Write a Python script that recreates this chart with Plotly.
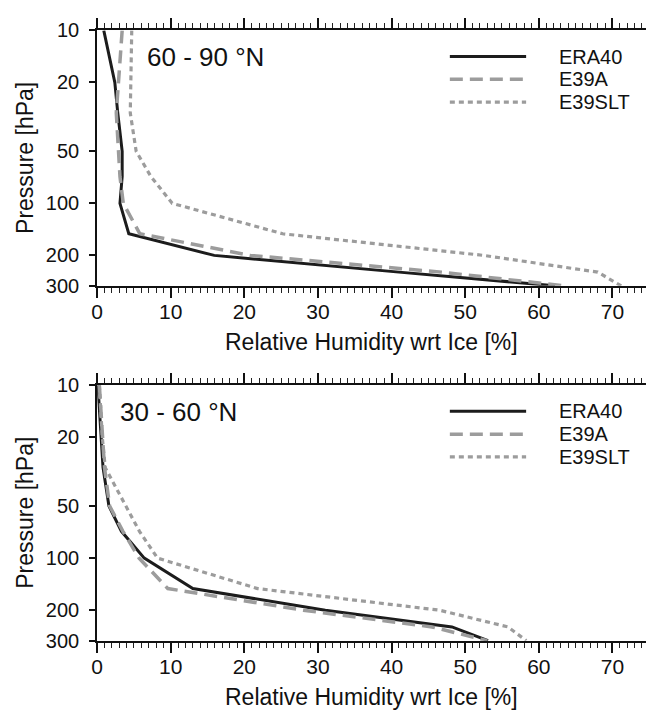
import plotly.graph_objects as go
import math

# ---------------- data ----------------
levels = [10, 20, 30, 50, 70, 100, 150, 200, 250, 300]

# 60 - 90 N
era40_polar = [0.9, 2.4, 2.8, 3.4, 3.4, 3.1, 4.3, 15.9, 41.0, 62.2]
e39a_polar = [3.4, 2.85, 2.6, 2.9, 3.1, 3.55, 5.8, 20.8, 46.8, 63.4]
e39slt_polar = [4.7, 4.6, 4.5, 5.3, 7.3, 10.2, 25.2, 52.5, 68.0, 71.2]

# 30 - 60 N
era40_mid = [0.1, 0.6, 0.8, 1.6, 3.3, 6.4, 13.0, 31.0, 48.2, 53.1]
e39a_mid = [0.3, 0.8, 1.0, 1.7, 3.5, 5.7, 9.6, 28.0, 45.5, 53.0]
e39slt_mid = [0.3, 0.7, 1.1, 3.9, 5.75, 8.2, 21.8, 46.5, 55.8, 58.3]

series_names = ["ERA40", "E39A", "E39SLT"]
panel_titles = ["60 - 90 °N", "30 - 60 °N"]
x_title = "Relative Humidity wrt Ice [%]"
y_title = "Pressure [hPa]"
y_ticks = [10, 20, 50, 100, 200, 300]
x_ticks = [0, 10, 20, 30, 40, 50, 60, 70]

# ---------------- styling ----------------
W, H = 646, 719
FONT = "Liberation Sans, Arial, sans-serif"
styles = [
    dict(color="#1c1c1c", width=3, dash="solid"),
    dict(color="#9c9c9c", width=3.5, dash="13px,7px"),
    dict(color="#9c9c9c", width=3.2, dash="5px,4px"),
]

def px_x(p):
    return p / W

def px_y(p):
    return 1 - p / H

left_px, right_px = 92, 646
panels = [
    dict(top=20, bottom=283.5, data=[era40_polar, e39a_polar, e39slt_polar],
         label_x=140, label_y=47, title_y=341),
    dict(top=386, bottom=649.5, data=[era40_mid, e39a_mid, e39slt_mid],
         label_x=113, label_y=414, title_y=708),
]

fig = go.Figure()
annotations = []
shapes = []

for i, pnl in enumerate(panels):
    xa = "x" if i == 0 else "x2"
    ya = "y" if i == 0 else "y2"
    for name, vals, st in zip(series_names, pnl["data"], styles):
        fig.add_trace(go.Scatter(
            x=vals, y=levels, mode="lines", name=name,
            line=dict(color=st["color"], width=st["width"], dash=st["dash"]),
            xaxis=xa, yaxis=ya, showlegend=False,
        ))
    annotations.append(dict(
        text=panel_titles[i], x=px_x(pnl["label_x"]), y=px_y(pnl["label_y"]),
        xref="paper", yref="paper", xanchor="left", yanchor="middle",
        showarrow=False, font=dict(family=FONT, size=26, color="#111")))
    annotations.append(dict(
        text=x_title, x=px_x((left_px + right_px) / 2), y=px_y(pnl["title_y"]),
        xref="paper", yref="paper", xanchor="center", yanchor="middle",
        showarrow=False, font=dict(family=FONT, size=23, color="#111")))
    annotations.append(dict(
        text=y_title, x=px_x(19), y=px_y((pnl["top"] + pnl["bottom"]) / 2),
        xref="paper", yref="paper", xanchor="center", yanchor="middle",
        textangle=-90, showarrow=False,
        font=dict(family=FONT, size=23, color="#111")))
    for k, (name, st) in enumerate(zip(series_names, styles)):
        ry = pnl["top"] + 27 + k * 23.5
        shapes.append(dict(
            type="line", xref="paper", yref="paper",
            x0=px_x(448), x1=px_x(525), y0=px_y(ry), y1=px_y(ry),
            line=dict(color=st["color"], width=st["width"], dash=st["dash"])))
        annotations.append(dict(
            text=name, x=px_x(556), y=px_y(ry), xref="paper", yref="paper",
            xanchor="left", yanchor="middle", showarrow=False,
            font=dict(family=FONT, size=20, color="#111")))

x_max = (right_px - left_px) / 7.43

def xaxis_cfg(domain_anchor):
    return dict(
        domain=[px_x(left_px), 1], anchor=domain_anchor,
        range=[0, x_max], tickvals=x_ticks,
        showline=True, linecolor="#111", linewidth=2, mirror="ticks",
        ticks="outside", ticklen=10, tickwidth=1.6, tickcolor="#111",
        minor=dict(dtick=1, ticks="outside", ticklen=5, tickwidth=1.2, tickcolor="#222"),
        showgrid=False, zeroline=False,
        tickfont=dict(family=FONT, size=21, color="#111"),
        ticklabelstandoff=-4,
    )

def yaxis_cfg(pnl, domain_anchor):
    return dict(
        domain=[px_y(pnl["bottom"]), px_y(pnl["top"])], anchor=domain_anchor,
        type="log", range=[math.log10(300), 1],
        tickvals=y_ticks, ticktext=[str(v) for v in y_ticks],
        showline=True, linecolor="#111", linewidth=2,
        ticks="outside", ticklen=6, tickwidth=1.6, tickcolor="#111",
        showgrid=False, zeroline=False,
        tickfont=dict(family=FONT, size=20, color="#111"),
        ticklabelstandoff=6,
    )

fig.update_layout(
    width=W, height=H,
    margin=dict(l=0, r=0, t=0, b=0),
    paper_bgcolor="white", plot_bgcolor="white",
    xaxis=xaxis_cfg("y"), yaxis=yaxis_cfg(panels[0], "x"),
    xaxis2=xaxis_cfg("y2"), yaxis2=yaxis_cfg(panels[1], "x2"),
    annotations=annotations, shapes=shapes,
    showlegend=False,
)

fig.write_html(
    "out.html",
    config={"displayModeBar": False},
    post_script="document.body.style.margin='0px';document.body.style.overflow='hidden';",
)
